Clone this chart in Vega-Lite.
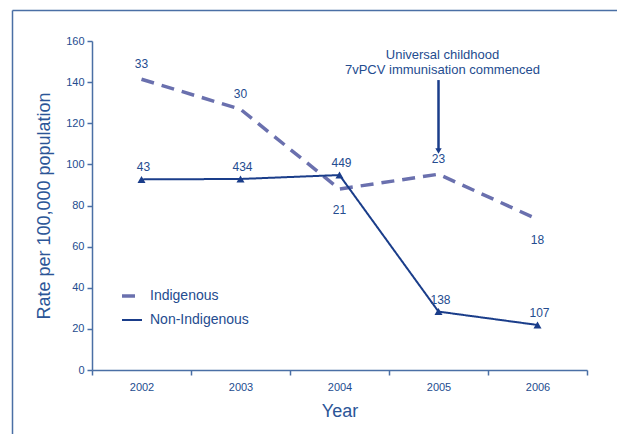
{
  "$schema": "https://vega.github.io/schema/vega-lite/v6.json",
  "autosize": {"type": "none"},
  "padding": {"left": 92, "top": 41, "right": 30, "bottom": 64},
  "width": 495,
  "height": 329,
  "background": "white",
  "config": {
    "font": "Liberation Sans",
    "view": {"stroke": null},
    "axis": {"grid": false}
  },
  "datasets": {
    "rates": [
      {"year": "2002", "series": "Indigenous", "rate": 141.4, "cases": 33},
      {"year": "2003", "series": "Indigenous", "rate": 126.8, "cases": 30},
      {"year": "2004", "series": "Indigenous", "rate": 88.0, "cases": 21},
      {"year": "2005", "series": "Indigenous", "rate": 95.2, "cases": 23},
      {"year": "2006", "series": "Indigenous", "rate": 73.3, "cases": 18},
      {"year": "2002", "series": "Non-Indigenous", "rate": 92.7, "cases": 43},
      {"year": "2003", "series": "Non-Indigenous", "rate": 92.9, "cases": 434},
      {"year": "2004", "series": "Non-Indigenous", "rate": 94.8, "cases": 449},
      {"year": "2005", "series": "Non-Indigenous", "rate": 28.4, "cases": 138},
      {"year": "2006", "series": "Non-Indigenous", "rate": 21.9, "cases": 107}
    ],
    "note": [
      {"year": "2005", "note": "Universal childhood\n7vPCV immunisation commenced", "arrowTop": 141, "arrowEnd": 106.5, "textY": 153}
    ],
    "frame": [{"f": 0}, {"f": 1}]
  },
  "resolve": {"scale": {"x": "independent", "y": "independent"}},
  "layer": [
    {
      "data": {"name": "frame"},
      "mark": {"type": "point", "opacity": 0},
      "encoding": {
        "x": {"field": "f", "type": "quantitative",
          "scale": {"domain": [0, 1], "range": [-80, 530], "nice": false, "zero": false},
          "axis": {"orient": "top", "offset": 31, "labels": false, "ticks": false, "grid": false, "title": null, "domainColor": "#4A6FA5", "domainWidth": 1.5}},
        "y": {"field": "f", "type": "quantitative",
          "scale": {"domain": [0, 1], "range": [393, -31], "nice": false, "zero": false},
          "axis": {"orient": "left", "offset": 80, "labels": false, "ticks": false, "grid": false, "title": null, "domainColor": "#4A6FA5", "domainWidth": 1.5}}
      }
    },
    {
      "encoding": {
        "x": {
          "field": "year", "type": "ordinal", "bandPosition": 0.5,
          "scale": {"type": "band", "domain": ["2002", "2003", "2004", "2005", "2006"], "paddingInner": 0, "paddingOuter": 0},
          "axis": {
            "orient": "bottom",
            "title": "Year", "tickBand": "extent", "labelAngle": 0,
            "tickSize": 5, "labelPadding": 6, "labelFontSize": 11, "labelColor": "#244C8F",
            "domainColor": "#4A6FA5", "tickColor": "#4A6FA5", "domainWidth": 1.5, "tickWidth": 1.5,
            "titleFontSize": 18, "titleFontWeight": "normal", "titleColor": "#2B5597", "titlePadding": 10
          }
        },
        "y": {
          "field": "rate", "type": "quantitative",
          "scale": {"domain": [0, 160], "nice": false},
          "axis": {
            "orient": "left",
            "title": "Rate per 100,000 population",
            "values": [0, 20, 40, 60, 80, 100, 120, 140, 160],
            "tickSize": 5, "labelPadding": 3, "labelFontSize": 11, "labelColor": "#244C8F",
            "domainColor": "#4A6FA5", "tickColor": "#4A6FA5", "domainWidth": 1.5, "tickWidth": 1.5,
            "titleFontSize": 18, "titleFontWeight": "normal", "titleColor": "#2B5597", "titlePadding": 12
          }
        }
      },
      "layer": [
        {
          "data": {"name": "rates"},
          "mark": {"type": "line"},
          "encoding": {
            "color": {"field": "series", "type": "nominal",
              "scale": {"domain": ["Indigenous", "Non-Indigenous"], "range": ["#6A70AE", "#1A3D8A"]},
              "legend": {
                "title": null, "orient": "none", "legendX": 28, "legendY": 243,
                "symbolType": "stroke", "symbolSize": 400, "symbolStrokeWidth": 3,
                "labelFontSize": 14, "labelColor": "#244C8F", "labelOffset": 6, "rowPadding": 6, "padding": 0
              }},
            "strokeDash": {"field": "series", "type": "nominal",
              "scale": {"domain": ["Indigenous", "Non-Indigenous"], "range": [[13, 8], [1, 0]]},
              "legend": {
                "title": null, "orient": "none", "legendX": 28, "legendY": 243,
                "symbolType": "stroke", "symbolSize": 400, "symbolStrokeWidth": 3,
                "labelFontSize": 14, "labelColor": "#244C8F", "labelOffset": 6, "rowPadding": 6, "padding": 0
              }},
            "strokeWidth": {"field": "series", "type": "nominal",
              "scale": {"domain": ["Indigenous", "Non-Indigenous"], "range": [3.5, 2]},
              "legend": null}
          }
        },
        {
          "data": {"name": "rates"},
          "transform": [{"filter": "datum.series == 'Non-Indigenous'"}],
          "mark": {"type": "point", "shape": "triangle-up", "filled": true, "size": 65, "color": "#1A3D8A", "opacity": 1}
        },
        {
          "data": {"name": "rates"},
          "transform": [{"filter": "datum.series == 'Indigenous' && (datum.year == '2002' || datum.year == '2003' || datum.year == '2005')"}],
          "mark": {"type": "text", "dy": -15, "fontSize": 12, "color": "#244C8F"},
          "encoding": {"text": {"field": "cases", "type": "nominal"}}
        },
        {
          "data": {"name": "rates"},
          "transform": [{"filter": "datum.series == 'Indigenous' && (datum.year == '2004' || datum.year == '2006')"}],
          "mark": {"type": "text", "dy": 21, "fontSize": 12, "color": "#244C8F"},
          "encoding": {"text": {"field": "cases", "type": "nominal"}}
        },
        {
          "data": {"name": "rates"},
          "transform": [{"filter": "datum.series == 'Non-Indigenous'"}],
          "mark": {"type": "text", "dy": -12, "dx": 2, "fontSize": 12, "color": "#244C8F"},
          "encoding": {"text": {"field": "cases", "type": "nominal"}}
        },
        {
          "data": {"name": "note"},
          "mark": {"type": "rule", "strokeWidth": 2.5, "color": "#1A3D8A"},
          "encoding": {
            "y": {"field": "arrowTop", "type": "quantitative"},
            "y2": {"field": "arrowEnd"}
          }
        },
        {
          "data": {"name": "note"},
          "mark": {"type": "point", "shape": "triangle-down", "filled": true, "size": 40, "color": "#1A3D8A", "opacity": 1},
          "encoding": {"y": {"field": "arrowEnd", "type": "quantitative"}}
        },
        {
          "data": {"name": "note"},
          "mark": {"type": "text", "lineBreak": "\n", "lineHeight": 15, "fontSize": 13, "color": "#244C8F", "dx": 4, "baseline": "middle"},
          "encoding": {
            "y": {"field": "textY", "type": "quantitative"},
            "text": {"field": "note", "type": "nominal"}
          }
        }
      ]
    }
  ]
}
